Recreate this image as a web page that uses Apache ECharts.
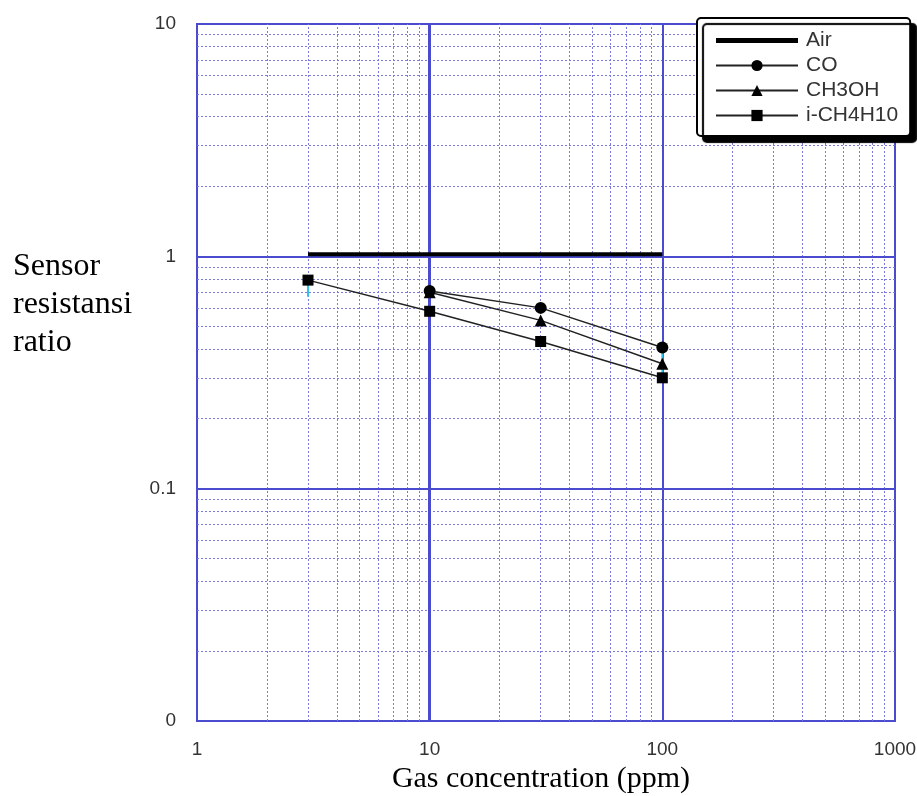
<!DOCTYPE html>
<html>
<head>
<meta charset="utf-8">
<script src="https://cdn.jsdelivr.net/npm/echarts@6/dist/echarts.min.js"></script>
<style>html,body{margin:0;padding:0;background:#fff;}#c{width:917px;height:796px;}</style>
</head>
<body>
<div id="c"></div>
<script>
// ---- data ----
const seriesNames = ['Air', 'CO', 'CH3OH', 'i-CH4H10'];
const airX = [3, 100];
const airY = [1.02, 1.02];
const coX = [10, 30, 100];
const coY = [0.71, 0.60, 0.405];
const ch3ohX = [10, 30, 100];
const ch3ohY = [0.70, 0.53, 0.345];
const ic4X = [3, 10, 30, 100];
const ic4Y = [0.79, 0.58, 0.43, 0.30];
// small cyan error ticks visible in the original
const errX = [3, 100];
const errLow = [0.67, 0.31];
const errHigh = [0.78, 0.39];
const xTickValues = [1, 10, 100, 1000];
const xTickLabels = ['1', '10', '100', '1000'];
const yTickValues = [0.01, 0.1, 1, 10];
const yTickLabels = ['0', '0.1', '1', '10'];
const xMinor = [2,3,4,5,6,7,8,9,20,30,40,50,60,70,80,90,200,300,400,500,600,700,800,900];
const yMinor = [0.02,0.03,0.04,0.05,0.06,0.07,0.08,0.09,0.2,0.3,0.4,0.5,0.6,0.7,0.8,0.9,2,3,4,5,6,7,8,9];

function pairs(xs, ys) { return xs.map((x, i) => [x, ys[i]]); }
function labelFor(vals, labels, v) {
  for (let i = 0; i < vals.length; i++) if (Math.abs(Math.log10(v) - Math.log10(vals[i])) < 1e-6) return labels[i];
  return '';
}

const BLUE = '#4b4bd0';
const MINOR = '#7a7ade';
const chart = echarts.init(document.getElementById('c'));
const minorLines = xMinor.map(v => ({ xAxis: v })).concat(yMinor.map(v => ({ yAxis: v })));
const majorLines = [
  { xAxis: 10, lineStyle: { width: 3, type: 'solid', color: BLUE } },
  { xAxis: 100, lineStyle: { width: 2, type: 'solid', color: BLUE } },
  { yAxis: 0.1, lineStyle: { width: 2, type: 'solid', color: BLUE } },
  { yAxis: 1, lineStyle: { width: 2, type: 'solid', color: BLUE } }
];
const errSeries = errX.map((x, i) => ({
  name: 'err' + i, type: 'line', data: [[x, errLow[i]], [x, errHigh[i]]], symbol: 'none', z: 3, silent: true,
  lineStyle: { color: '#2ec4e8', width: 2 }
}));

const legendData = seriesNames.map(n => n === 'Air'
  ? { name: n, icon: 'path://M0,0L0,0M0,4.5L82,4.5L82,9.5L0,9.5ZM0,14L0,14', itemStyle: { color: '#000' } }
  : n);

const dataLine = { color: '#222', width: 1.5 };
chart.setOption({
  animation: false,
  backgroundColor: '#fff',
  grid: { left: 197, right: 22, top: 24, bottom: 75, outerBoundsMode: 'none', containLabel: false,
    show: true, borderColor: BLUE, borderWidth: 2, backgroundColor: 'transparent' },
  xAxis: {
    type: 'log', logBase: 10, min: 1, max: 1000,
    name: 'Gas concentration (ppm)', nameLocation: 'middle', nameGap: 36,
    nameTextStyle: { fontFamily: 'Liberation Serif', fontSize: 30, color: '#000', padding: [0, 10, 0, 0] },
    axisLine: { show: true, lineStyle: { color: BLUE, width: 2 } },
    axisTick: { show: false },
    splitLine: { show: false },
    axisLabel: { margin: 19, fontFamily: 'Liberation Sans', fontSize: 19, color: '#333',
      formatter: v => labelFor(xTickValues, xTickLabels, v) }
  },
  yAxis: {
    type: 'log', logBase: 10, min: 0.01, max: 10,
    axisLine: { show: true, lineStyle: { color: BLUE, width: 2 } },
    axisTick: { show: false },
    splitLine: { show: false },
    axisLabel: { margin: 21, fontFamily: 'Liberation Sans', fontSize: 19, color: '#333',
      formatter: v => labelFor(yTickValues, yTickLabels, v) }
  },
  legend: {
    data: legendData, z: 20,
    orient: 'vertical', left: 697, top: 18,
    itemWidth: 82, itemHeight: 14, itemGap: 4,
    padding: [12, 12, 10, 18],
    backgroundColor: '#fff', borderColor: '#000', borderWidth: 2, borderRadius: 4,
    shadowColor: '#000', shadowBlur: 1, shadowOffsetX: 6, shadowOffsetY: 6,
    textStyle: { fontFamily: 'Liberation Sans', fontSize: 21, color: '#333', padding: [0, 0, 0, 3] }
  },
  graphic: [{
    type: 'text', left: 13, top: 248,
    style: { text: 'Sensor\nresistansi\nratio', font: '32px "Liberation Serif"', fill: '#000', lineHeight: 38 }
  }],
  series: [
    {
      name: 'gridlines', type: 'line', data: [[1, 0.01]], showSymbol: false, silent: true, z: 1,
      lineStyle: { width: 0 },
      markLine: {
        silent: true, symbol: 'none', label: { show: false }, animation: false, z: 1,
        lineStyle: { color: MINOR, width: 1, type: [2, 2] },
        data: minorLines.concat(majorLines)
      }
    }
  ].concat(errSeries).concat([
    { name: 'Air', type: 'line', data: pairs(airX, airY), symbol: 'none', z: 5,
      lineStyle: { color: '#000', width: 4 }, itemStyle: { color: '#000' } },
    { name: 'CO', type: 'line', data: pairs(coX, coY), symbol: 'circle', symbolSize: 12, z: 5,
      lineStyle: dataLine, itemStyle: { color: '#000' } },
    { name: 'CH3OH', type: 'line', data: pairs(ch3ohX, ch3ohY), symbol: 'triangle', symbolSize: 12, z: 5,
      lineStyle: dataLine, itemStyle: { color: '#000' } },
    { name: 'i-CH4H10', type: 'line', data: pairs(ic4X, ic4Y), symbol: 'rect', symbolSize: 11, z: 5,
      lineStyle: dataLine, itemStyle: { color: '#000' } }
  ])
});
</script>
</body>
</html>
